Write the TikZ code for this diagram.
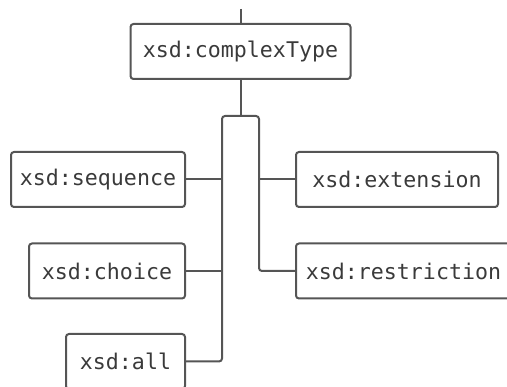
\documentclass[tikz,border=0pt]{standalone}
\usepackage{fontspec}
\setmonofont{DejaVu Sans Mono}
\usepackage{tikz}
\usetikzlibrary{positioning,calc}

\definecolor{edge}{HTML}{555555}
\definecolor{ink}{HTML}{3A3A3A}

\begin{document}
\begin{tikzpicture}[
        x=1pt, y=-1pt,
        line width=2pt,
        box/.style={draw=edge, rounded corners=3pt, minimum height=55pt,
                    inner sep=0pt, text=ink,
                    font=\ttfamily\fontsize{21.6}{26}\selectfont},
        link/.style={draw=edge, rounded corners=3pt},
    ]
        \clip (0,0) rectangle (507,387);

        \node[box, minimum width=220pt] (ct) at (240.5,51.5) {xsd:complexType};

        % left column, right edges aligned
        \node[box, minimum width=174pt, anchor=east] (seq) at (186,179.5) {xsd:sequence};
        \node[box, minimum width=156pt, anchor=east] (cho) at (186,271) {xsd:choice};
        \node[box, minimum width=119pt, anchor=east] (all) at (186,361.5) {xsd:all};

        % right column, left edges aligned
        \node[box, minimum width=202pt, anchor=west] (ext) at (295,179.5) {xsd:extension};
        \node[box, minimum width=215pt, anchor=west] (res) at (295,271) {xsd:restriction};

        \coordinate (top) at (240.5,9);
        \coordinate (hubL) at (222,116);
        \coordinate (hubR) at (259,116);

        \draw[link] (top) -- (ct.north);
        \draw[link] (ct.south) -- (ct.south |- hubL);
        \draw[link] (all.east) -| (hubL) -- (hubR) |- (res.west);
        \draw[link] (seq.east) -- (seq.east -| hubL);
        \draw[link] (cho.east) -- (cho.east -| hubL);
        \draw[link] (ext.west) -- (ext.west -| hubR);
    \end{tikzpicture}
\end{document}
